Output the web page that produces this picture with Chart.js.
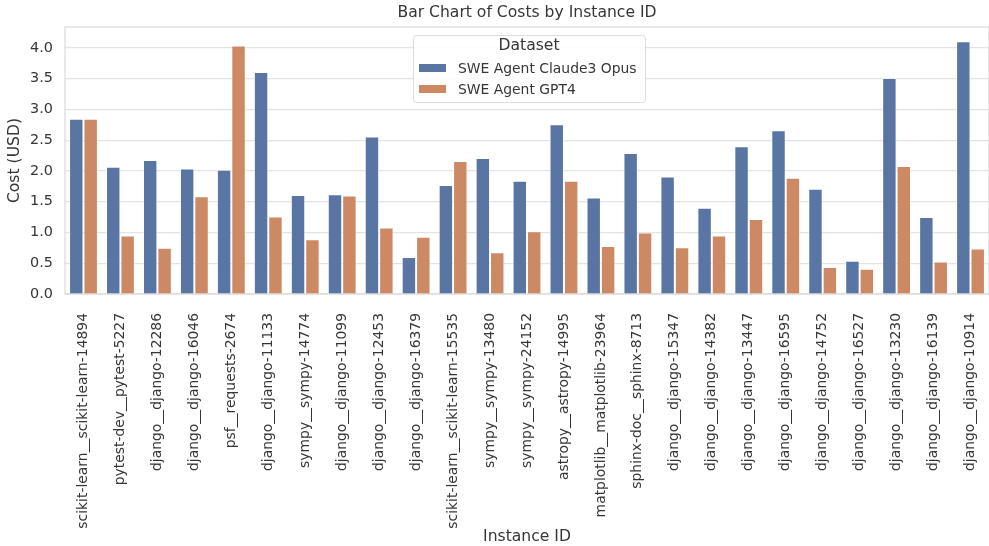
<!DOCTYPE html>
<html>
<head>
<meta charset="utf-8">
<title>Bar Chart of Costs by Instance ID</title>
<script src="https://cdn.jsdelivr.net/npm/chart.js@4.4.1/dist/chart.umd.min.js"></script>
<style>
  html, body { margin: 0; padding: 0; background: #fff; }
  #wrap { width: 989px; height: 546px; position: relative; }
</style>
</head>
<body>
<div id="wrap"><canvas id="costChart"></canvas></div>
<script>
// Data
const instanceIds = [
  "scikit-learn__scikit-learn-14894", "pytest-dev__pytest-5227", "django__django-12286",
  "django__django-16046", "psf__requests-2674", "django__django-11133", "sympy__sympy-14774",
  "django__django-11099", "django__django-12453", "django__django-16379",
  "scikit-learn__scikit-learn-15535", "sympy__sympy-13480", "sympy__sympy-24152",
  "astropy__astropy-14995", "matplotlib__matplotlib-23964", "sphinx-doc__sphinx-8713",
  "django__django-15347", "django__django-14382", "django__django-13447", "django__django-16595",
  "django__django-14752", "django__django-16527", "django__django-13230", "django__django-16139",
  "django__django-10914"
];
const claudeCosts = [2.85, 2.07, 2.18, 2.04, 2.02, 3.61, 1.61, 1.62, 2.56, 0.60, 1.77, 2.21, 1.84,
  2.76, 1.57, 2.29, 1.91, 1.40, 2.40, 2.66, 1.71, 0.54, 3.51, 1.25, 4.11];
const gpt4Costs = [2.85, 0.95, 0.75, 1.59, 4.04, 1.26, 0.89, 1.60, 1.08, 0.93, 2.16, 0.68, 1.02,
  1.84, 0.78, 1.00, 0.76, 0.95, 1.22, 1.89, 0.44, 0.41, 2.08, 0.53, 0.74];
const seriesNames = ["SWE Agent Claude3 Opus", "SWE Agent GPT4"];
const yTicks = [0, 0.5, 1.0, 1.5, 2.0, 2.5, 3.0, 3.5, 4.0];
const chartTitle = "Bar Chart of Costs by Instance ID";

const textColor = "#363636";
const fontFamily = "'DejaVu Sans', sans-serif";
const tickSize = 13.9;
const labelSize = 15.6;

// light frame around the plot area + title centred over it (matplotlib style)
const frame = {
  id: "frame",
  beforeDatasetsDraw(chart) {
    const a = chart.chartArea, ctx = chart.ctx;
    ctx.save();
    ctx.strokeStyle = "#d9d9d9";
    ctx.lineWidth = 1.2;
    ctx.strokeRect(a.left, a.top, a.right - a.left, a.bottom - a.top);
    ctx.fillStyle = textColor;
    ctx.font = labelSize + "px " + fontFamily;
    ctx.textAlign = "center";
    ctx.textBaseline = "middle";
    ctx.fillText(chartTitle, (a.left + a.right) / 2, 13);
    ctx.restore();
  }
};

// legend box with a title, drawn inside the plot like matplotlib does
const boxLegend = {
  id: "boxLegend",
  afterDatasetsDraw(chart) {
    const a = chart.chartArea, ctx = chart.ctx;
    const w = 232, h = 67;
    const x = (a.left + a.right) / 2 - w / 2 + 2;
    const y = a.top + 8;
    ctx.save();
    ctx.fillStyle = "rgba(255,255,255,0.85)";
    ctx.strokeStyle = "#dddddd";
    ctx.lineWidth = 1;
    ctx.beginPath();
    ctx.roundRect(x + 0.5, y + 0.5, w, h, 3);
    ctx.fill();
    ctx.stroke();
    ctx.fillStyle = textColor;
    ctx.font = labelSize + "px " + fontFamily;
    ctx.textAlign = "center";
    ctx.textBaseline = "middle";
    ctx.fillText("Dataset", x + w / 2, y + 11);
    ctx.font = tickSize + "px " + fontFamily;
    ctx.textAlign = "left";
    chart.data.datasets.forEach(function (ds, i) {
      const ry = y + 33 + i * 21;
      ctx.fillStyle = ds.backgroundColor;
      ctx.fillRect(x + 6, ry - 4, 27, 8);
      ctx.fillStyle = textColor;
      ctx.fillText(ds.label, x + 45, ry + 1);
    });
    ctx.restore();
  }
};

const ctx = document.getElementById("costChart").getContext("2d");
new Chart(ctx, {
  type: "bar",
  data: {
    labels: instanceIds,
    datasets: [
      {
        label: seriesNames[0],
        data: claudeCosts,
        backgroundColor: "#5975a4",
        borderColor: "rgba(255,255,255,0.5)",
        borderWidth: 1
      },
      {
        label: seriesNames[1],
        data: gpt4Costs,
        backgroundColor: "#cc8963",
        borderColor: "rgba(255,255,255,0.5)",
        borderWidth: 1
      }
    ]
  },
  options: {
    responsive: true,
    maintainAspectRatio: false,
    animation: false,
    layout: { padding: { left: 0, right: 0, top: 27, bottom: 0 } },
    datasets: { bar: { categoryPercentage: 0.78, barPercentage: 1.0 } },
    plugins: {
      legend: { display: false },
      tooltip: { enabled: false },
      title: { display: false }
    },
    scales: {
      x: {
        grid: { display: false },
        border: { display: false },
        ticks: {
          color: textColor,
          font: { family: fontFamily, size: tickSize },
          minRotation: 90,
          maxRotation: 90,
          autoSkip: false,
          padding: 11
        },
        title: {
          display: true,
          text: "Instance ID",
          color: textColor,
          font: { family: fontFamily, size: labelSize },
          padding: { top: 0, bottom: 0 }
        },
        afterFit(scale) {
          scale.height = 252;
          scale.paddingLeft = 0;
          scale.paddingRight = 0;
        }
      },
      y: {
        min: 0,
        max: 4.34,
        grid: { color: "#e3e3e3", lineWidth: 1.2, drawTicks: false },
        border: { display: false },
        afterBuildTicks(axis) {
          axis.ticks = yTicks.map(function (v) { return { value: v }; });
        },
        ticks: {
          color: textColor,
          font: { family: fontFamily, size: tickSize + 0.5 },
          padding: 12,
          callback: function (v) { return Number(v).toFixed(1); }
        },
        title: {
          display: true,
          text: "Cost (USD)",
          color: textColor,
          font: { family: fontFamily, size: labelSize },
          padding: { top: 6, bottom: 0 }
        },
        afterFit(scale) {
          scale.width = 65;
          scale.paddingTop = 0;
          scale.paddingBottom = 0;
        }
      }
    }
  },
  plugins: [frame, boxLegend]
});
</script>
</body>
</html>
